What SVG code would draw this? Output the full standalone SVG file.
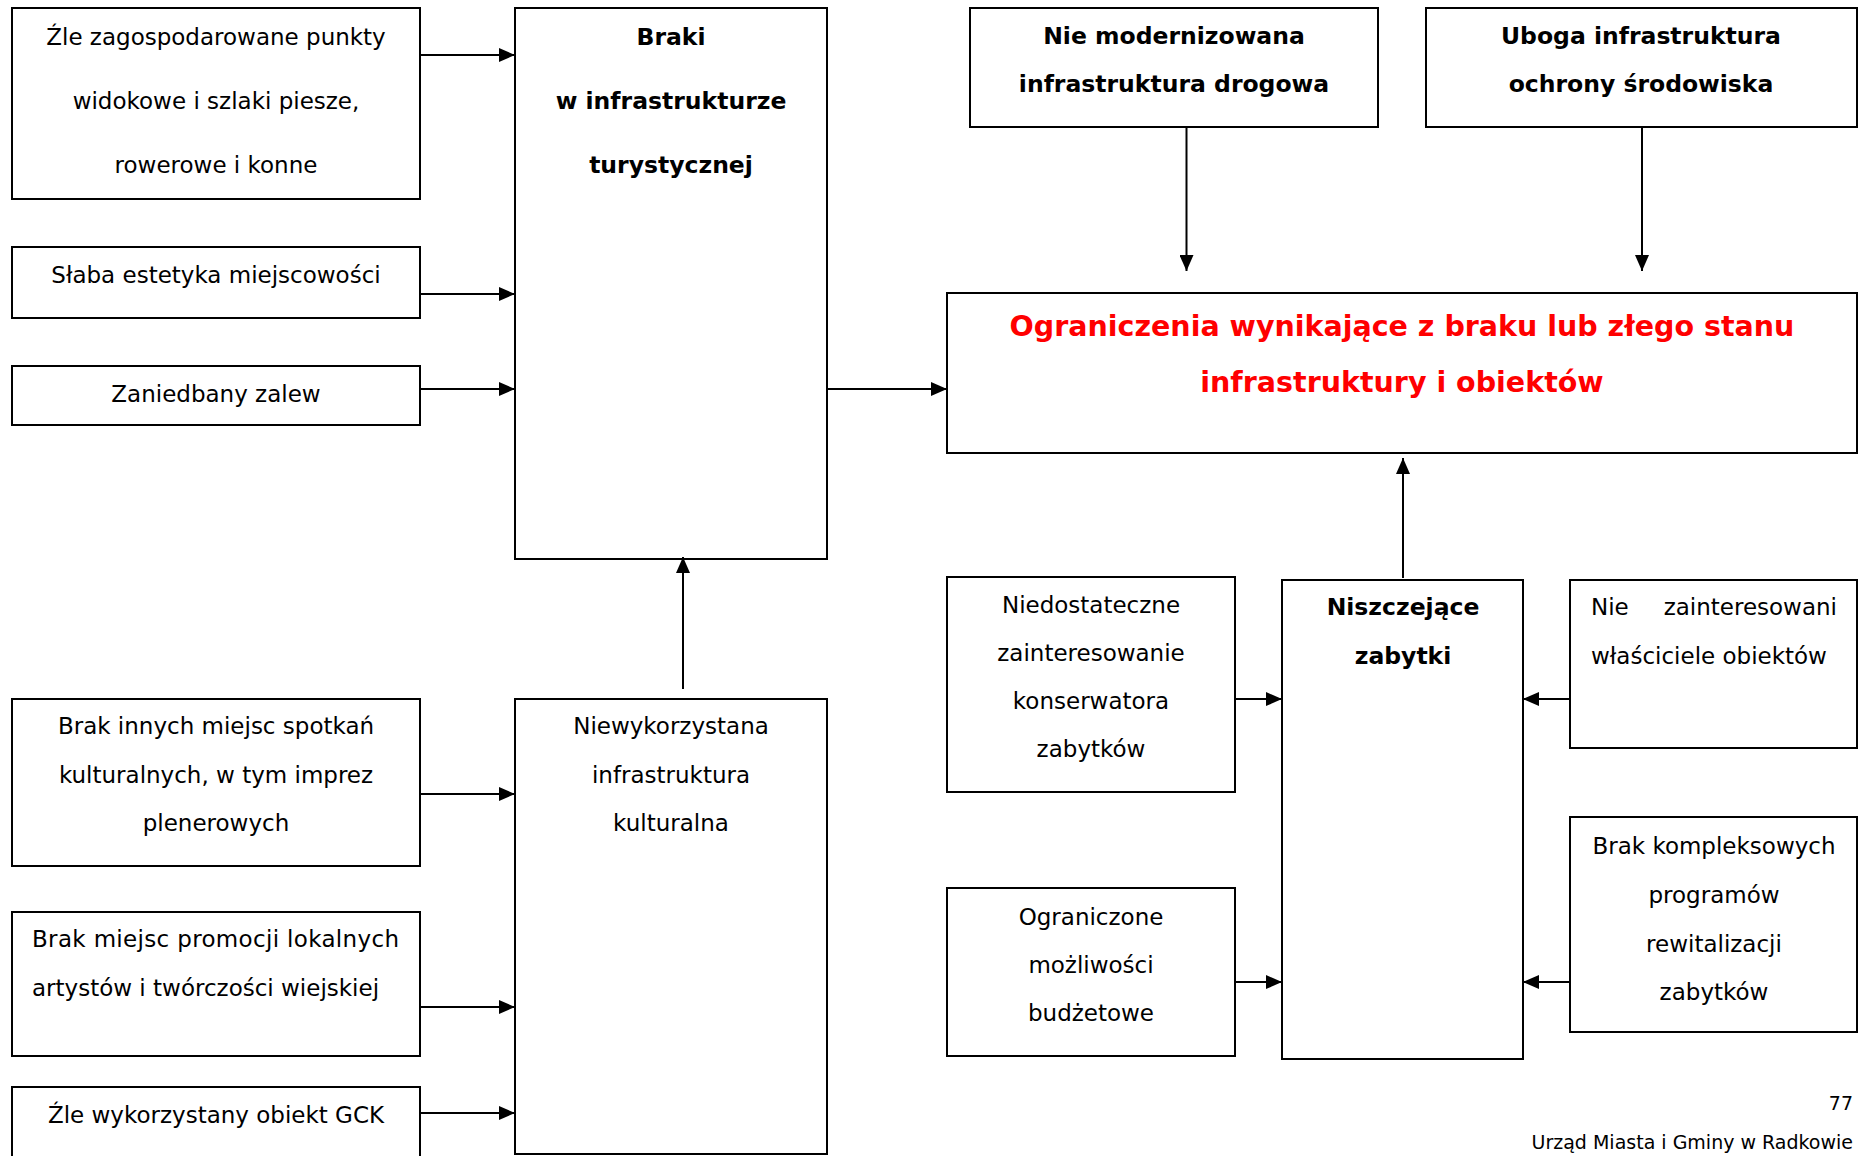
<svg xmlns="http://www.w3.org/2000/svg" width="1860" height="1156" viewBox="0 0 1860 1156">
<style>
rect.b{fill:#fff;stroke:#000;stroke-width:2}
text{font-family:"DejaVu Sans","Verdana",sans-serif;font-size:23px;fill:#000}
text.c{text-anchor:middle}
text.bold{font-weight:bold;font-size:23.5px}
text.red{font-weight:bold;font-size:28.5px;fill:#ff0000;text-anchor:middle}
#connectors line{stroke:#000;stroke-width:2;fill:none;marker-end:url(#ah)}
</style>
<defs>
<marker id="ah" markerUnits="userSpaceOnUse" markerWidth="16" markerHeight="14" refX="16" refY="7" orient="auto">
<path d="M0,0 L16,7 L0,14 z" fill="#000"/>
</marker>
</defs>
<rect x="0" y="0" width="1860" height="1156" fill="#fff"/>

<g id="n-zle-zagospodarowane">
<rect class="b" x="12" y="8" width="408" height="191"/>
<text class="c" x="216" y="45">Źle zagospodarowane punkty</text>
<text class="c" x="216" y="109">widokowe i szlaki piesze,</text>
<text class="c" x="216" y="173">rowerowe i konne</text>
</g>
<g id="n-slaba-estetyka">
<rect class="b" x="12" y="247" width="408" height="71"/>
<text class="c" x="216" y="283">Słaba estetyka miejscowości</text>
</g>
<g id="n-zaniedbany-zalew">
<rect class="b" x="12" y="366" width="408" height="59"/>
<text class="c" x="216" y="402">Zaniedbany zalew</text>
</g>
<g id="n-braki">
<rect class="b" x="515" y="8" width="312" height="551"/>
<text class="c bold" x="671" y="45">Braki</text>
<text class="c bold" x="671" y="109">w infrastrukturze</text>
<text class="c bold" x="671" y="173">turystycznej</text>
</g>
<g id="n-nie-modernizowana">
<rect class="b" x="970" y="8" width="408" height="119"/>
<text class="c bold" x="1174" y="44">Nie modernizowana</text>
<text class="c bold" x="1174" y="92">infrastruktura drogowa</text>
</g>
<g id="n-uboga">
<rect class="b" x="1426" y="8" width="431" height="119"/>
<text class="c bold" x="1641" y="44">Uboga infrastruktura</text>
<text class="c bold" x="1641" y="92">ochrony środowiska</text>
</g>
<g id="n-ograniczenia">
<rect class="b" x="947" y="293" width="910" height="160"/>
<text class="red" x="1402" y="336">Ograniczenia wynikające z braku lub złego stanu</text>
<text class="red" x="1402" y="392">infrastruktury i obiektów</text>
</g>
<g id="n-brak-innych">
<rect class="b" x="12" y="699" width="408" height="167"/>
<text class="c" x="216" y="734">Brak innych miejsc spotkań</text>
<text class="c" x="216" y="783">kulturalnych, w tym imprez</text>
<text class="c" x="216" y="831">plenerowych</text>
</g>
<g id="n-niewykorzystana">
<rect class="b" x="515" y="699" width="312" height="455"/>
<text class="c" x="671" y="734">Niewykorzystana</text>
<text class="c" x="671" y="783">infrastruktura</text>
<text class="c" x="671" y="831">kulturalna</text>
</g>
<g id="n-brak-miejsc">
<rect class="b" x="12" y="912" width="408" height="144"/>
<text x="32" y="947" textLength="367" lengthAdjust="spacing">Brak miejsc promocji lokalnych</text>
<text x="32" y="996">artystów i twórczości wiejskiej</text>
</g>
<g id="n-zle-wykorzystany">
<rect class="b" x="12" y="1087" width="408" height="90"/>
<text class="c" x="216" y="1123">Źle wykorzystany obiekt GCK</text>
</g>
<g id="n-niedostateczne">
<rect class="b" x="947" y="577" width="288" height="215"/>
<text class="c" x="1091" y="613">Niedostateczne</text>
<text class="c" x="1091" y="661">zainteresowanie</text>
<text class="c" x="1091" y="709">konserwatora</text>
<text class="c" x="1091" y="757">zabytków</text>
</g>
<g id="n-ograniczone">
<rect class="b" x="947" y="888" width="288" height="168"/>
<text class="c" x="1091" y="925">Ograniczone</text>
<text class="c" x="1091" y="973">możliwości</text>
<text class="c" x="1091" y="1021">budżetowe</text>
</g>
<g id="n-niszczejace">
<rect class="b" x="1282" y="580" width="241" height="479"/>
<text class="c bold" x="1403" y="615">Niszczejące</text>
<text class="c bold" x="1403" y="664">zabytki</text>
</g>
<g id="n-nie-zainteresowani">
<rect class="b" x="1570" y="580" width="287" height="168"/>
<text x="1591" y="615">Nie</text>
<text x="1837" y="615" text-anchor="end">zainteresowani</text>
<text x="1591" y="664">właściciele obiektów</text>
</g>
<g id="n-brak-kompleksowych">
<rect class="b" x="1570" y="817" width="287" height="215"/>
<text class="c" x="1714" y="854">Brak kompleksowych</text>
<text class="c" x="1714" y="903">programów</text>
<text class="c" x="1714" y="952">rewitalizacji</text>
<text class="c" x="1714" y="1000">zabytków</text>
</g>

<g id="connectors">
<line x1="420" y1="55" x2="515" y2="55"/>
<line x1="420" y1="294" x2="515" y2="294"/>
<line x1="420" y1="389" x2="515" y2="389"/>
<line x1="827" y1="389" x2="947" y2="389"/>
<line x1="1186.5" y1="127" x2="1186.5" y2="271"/>
<line x1="1642" y1="127" x2="1642" y2="271"/>
<line x1="1403" y1="578" x2="1403" y2="458"/>
<line x1="683" y1="689" x2="683" y2="557"/>
<line x1="420" y1="794" x2="515" y2="794"/>
<line x1="420" y1="1007" x2="515" y2="1007"/>
<line x1="420" y1="1113" x2="515" y2="1113"/>
<line x1="1235" y1="699" x2="1282" y2="699"/>
<line x1="1235" y1="982" x2="1282" y2="982"/>
<line x1="1570" y1="699" x2="1523" y2="699"/>
<line x1="1570" y1="982" x2="1523" y2="982"/>
</g>

<g id="footer">
<text x="1853" y="1110" text-anchor="end" style="font-size:19px">77</text>
<text x="1853" y="1149" text-anchor="end" style="font-size:19px">Urząd Miasta i Gminy w Radkowie</text>
</g>
</svg>
